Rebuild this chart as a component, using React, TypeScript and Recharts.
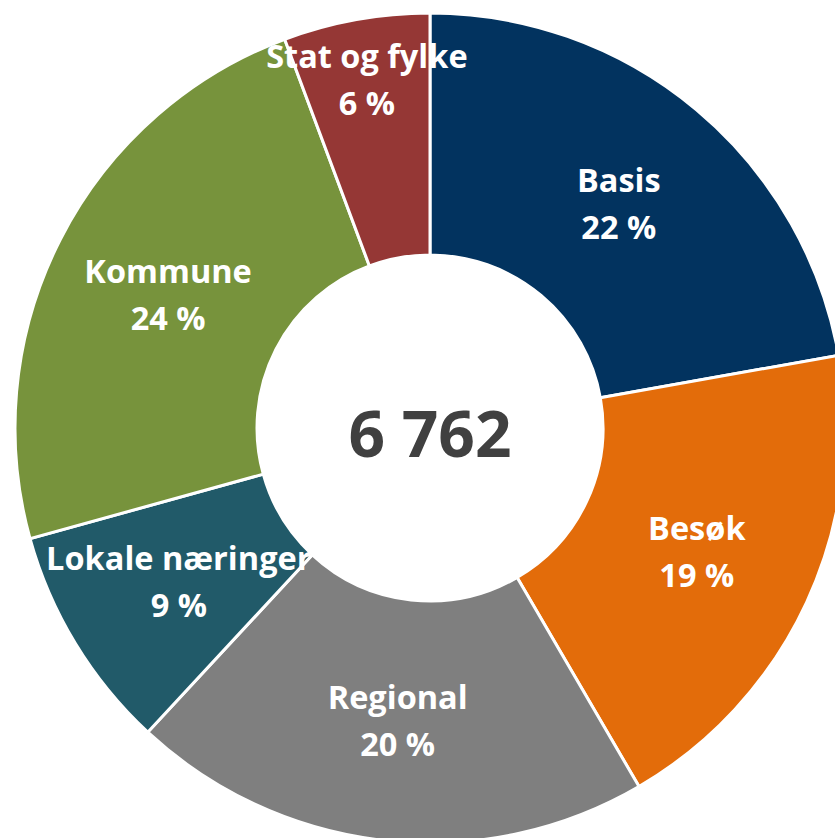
import React from "react";
import { PieChart, Pie, Cell } from "recharts";

const categories = ["Basis", "Besøk", "Regional", "Lokale næringer", "Kommune", "Stat og fylke"];
const values = [1501, 1312, 1373, 595, 1596, 385];
const colors = ["#02335F", "#E36C0A", "#7F7F7F", "#215A69", "#77933C", "#953735"];

const data = categories.map((name, i) => ({ name, value: values[i] }));
const total = values.reduce((a, b) => a + b, 0);
const totalLabel = String(total).replace(/\B(?=(\d{3})+(?!\d))/g, "\u00A0");

const RADIAN = Math.PI / 180;
const FONT = "'Open Sans', Lato, sans-serif";
const CX = 430;
const CY = 428;

const renderLabel = (props: any) => {
  const { cx, cy, midAngle, innerRadius, outerRadius, percent, name } = props;
  const small = percent < 0.07;
  const r = small ? outerRadius * 0.855 : (innerRadius + outerRadius) / 2;
  const x = cx + r * Math.cos(-midAngle * RADIAN);
  const y = cy + r * Math.sin(-midAngle * RADIAN);
  return (
    <text
      x={x}
      y={y}
      fill="#FFFFFF"
      textAnchor="middle"
      fontFamily={FONT}
      fontWeight={700}
      fontSize={32.5}
    >
      <tspan x={x} y={y - 11}>{name}</tspan>
      <tspan x={x} y={y + 36}>{`${Math.round(percent * 100)} %`}</tspan>
    </text>
  );
};

export default function App() {
  return (
    <div style={{ position: "absolute", left: 0, top: 0, width: 835, height: 838 }}>
      <PieChart width={835} height={838} margin={{ top: 0, right: 0, bottom: 0, left: 0 }}>
        <Pie
          data={data}
          dataKey="value"
          nameKey="name"
          cx={CX}
          cy={CY}
          innerRadius={173}
          outerRadius={415}
          startAngle={90}
          endAngle={-270}
          stroke="#FFFFFF"
          strokeWidth={3}
          label={renderLabel}
          labelLine={false}
          isAnimationActive={false}
        >
          {data.map((d, i) => (
            <Cell key={d.name} fill={colors[i]} />
          ))}
        </Pie>
      </PieChart>
      <svg
        width={835}
        height={838}
        style={{ position: "absolute", left: 0, top: 0, pointerEvents: "none" }}
      >
        <text
          x={CX}
          y={CY + 29}
          textAnchor="middle"
          fill="#404040"
          fontFamily={FONT}
          fontWeight={700}
          fontSize={64}
        >
          {totalLabel}
        </text>
      </svg>
    </div>
  );
}
